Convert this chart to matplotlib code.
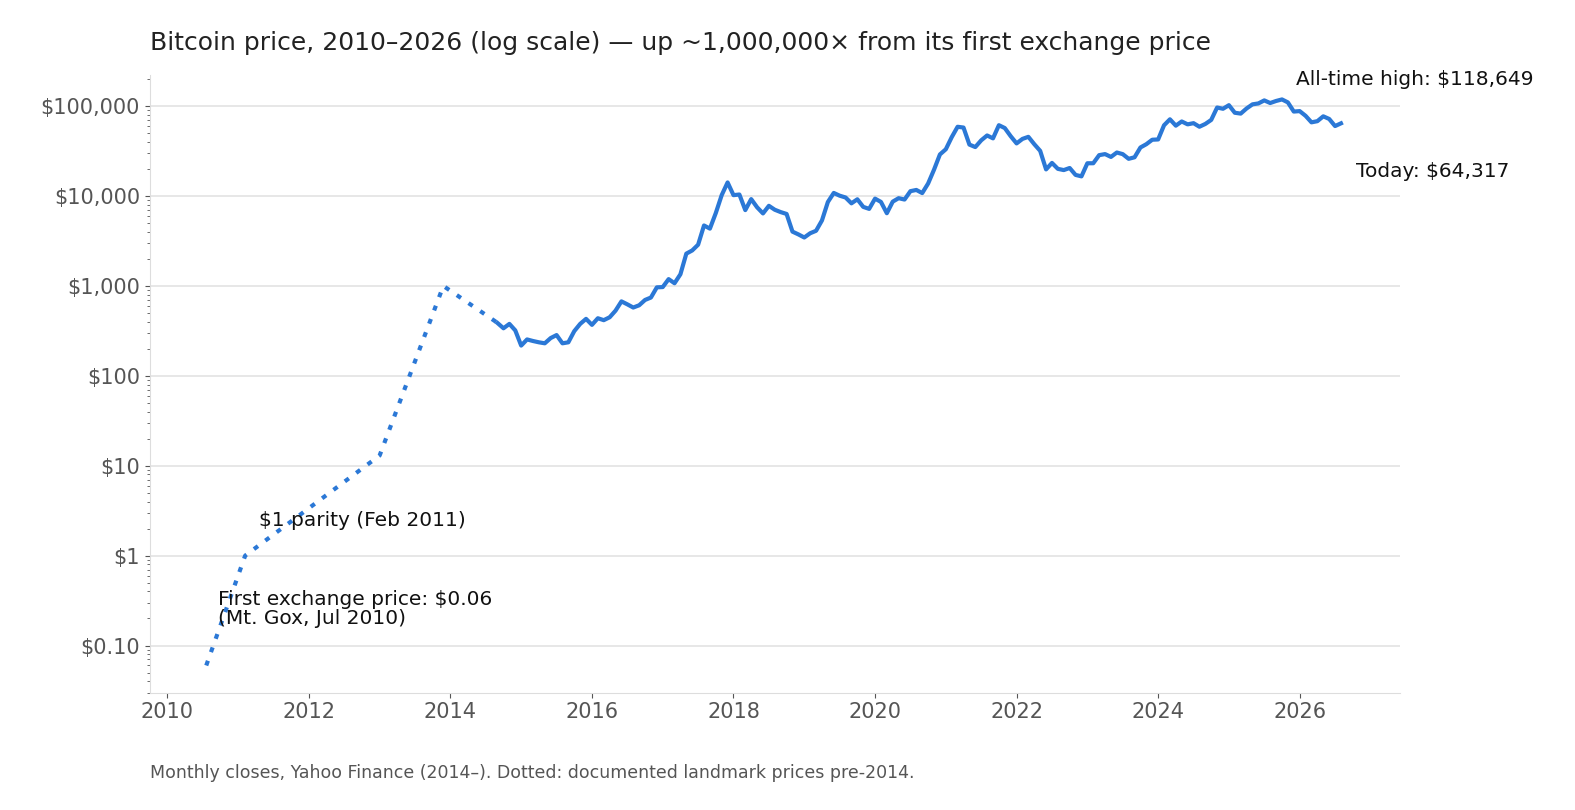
import matplotlib
matplotlib.use("Agg")
import matplotlib.pyplot as plt
import matplotlib.ticker as mticker
import numpy as np

# documented landmark prices before 2014 (decimal year, USD)
landmark_years = [2010.55, 2011.1, 2013.0, 2013.9, 2014.67]
landmark_prices = [0.06, 1.0, 13.0, 1000.0, 386.0]

# monthly closes from Sep 2014 to Aug 2026
monthly_closes = [
    386, 338, 378, 320,
    217, 254, 244, 236, 230, 263, 284, 230, 236, 314, 378, 430,
    369, 437, 416, 448, 531, 673, 624, 575, 609, 698, 743, 964,
    971, 1190, 1071, 1348, 2286, 2481, 2875, 4703, 4338, 6468, 10233, 14157,
    10221, 10397, 6973, 9240, 7494, 6404, 7780, 7037, 6625, 6318, 4017, 3743,
    3457, 3854, 4105, 5351, 8574, 10817, 10085, 9631, 8294, 9199, 7569, 7194,
    9350, 8600, 6438, 8658, 9461, 9137, 11323, 11681, 10784, 13781, 19625, 29002,
    33114, 45137, 58918, 57750, 37332, 35041, 41626, 47167, 43791, 61318, 57005, 46306,
    38483, 43194, 45538, 37714, 31792, 19785, 23337, 20050, 19431, 20495, 17168, 16548,
    23139, 23147, 28478, 29268, 27220, 30477, 29230, 25931, 26968, 34667, 37713, 42265,
    42582, 61198, 71334, 60637, 67491, 62678, 64620, 58969, 63329, 70215, 96449, 93429,
    102405, 84374, 82549, 94208, 104638, 107135, 115758, 108236, 114056, 118649, 110000, 87000,
    88000, 78000, 66000, 68000, 77000, 72000, 60000, 64317,
]
monthly_years = 2014 + 8 / 12 + np.arange(len(monthly_closes)) / 12

ath = max(monthly_closes)
today = monthly_closes[-1]

blue = "#2b78d6"
fig, ax = plt.subplots(figsize=(15.75, 8.1), dpi=100)
fig.subplots_adjust(left=0.095, right=0.889, top=0.907, bottom=0.145)

ax.plot(landmark_years, landmark_prices, color=blue, lw=3, linestyle=(0, (1.2, 2.2)))
ax.plot(monthly_years, monthly_closes, color=blue, lw=3)

ax.set_yscale("log")
ax.set_ylim(0.03, 220000)
ax.set_xlim(2009.75, 2027.42)
ax.set_xticks(range(2010, 2027, 2))
ax.set_yticks([0.1, 1, 10, 100, 1000, 10000, 100000])
ax.set_yticklabels(["$0.10", "$1", "$10", "$100", "$1,000", "$10,000", "$100,000"])
ax.yaxis.set_minor_locator(mticker.LogLocator(subs=np.arange(2, 10)))
ax.yaxis.set_minor_formatter(mticker.NullFormatter())
ax.tick_params(labelsize=15, colors="#555555")
ax.tick_params(which="minor", colors="#555555")
ax.grid(axis="y", color="#e3e3e3", lw=1.2)
ax.set_axisbelow(True)
for s in ["top", "right"]:
    ax.spines[s].set_visible(False)
for s in ["left", "bottom"]:
    ax.spines[s].set_color("#dddddd")

ax.set_title("Bitcoin price, 2010–2026 (log scale) — up ~1,000,000× from its first exchange price",
             fontsize=18, loc="left", x=-0.0, pad=18, color="#222222")

ax.text(2010.72, 0.42, "First exchange price: $0.06\n(Mt. Gox, Jul 2010)", fontsize=14.5,
        va="top", linespacing=1.0, color="#111111")
ax.text(2011.29, 2.45, "$1 parity (Feb 2011)", fontsize=14.5, va="center", color="#111111")
ax.text(2025.95, 200000, f"All-time high: ${ath:,}", fontsize=14.5, va="center", color="#111111")
ax.text(2026.8, 18500, f"Today: ${today:,}", fontsize=14.5, va="center", color="#111111")

fig.text(0.095, 0.04, "Monthly closes, Yahoo Finance (2014–). Dotted: documented landmark prices pre-2014.",
         fontsize=12.5, color="#555555")

fig.savefig("out.png", dpi=100)
